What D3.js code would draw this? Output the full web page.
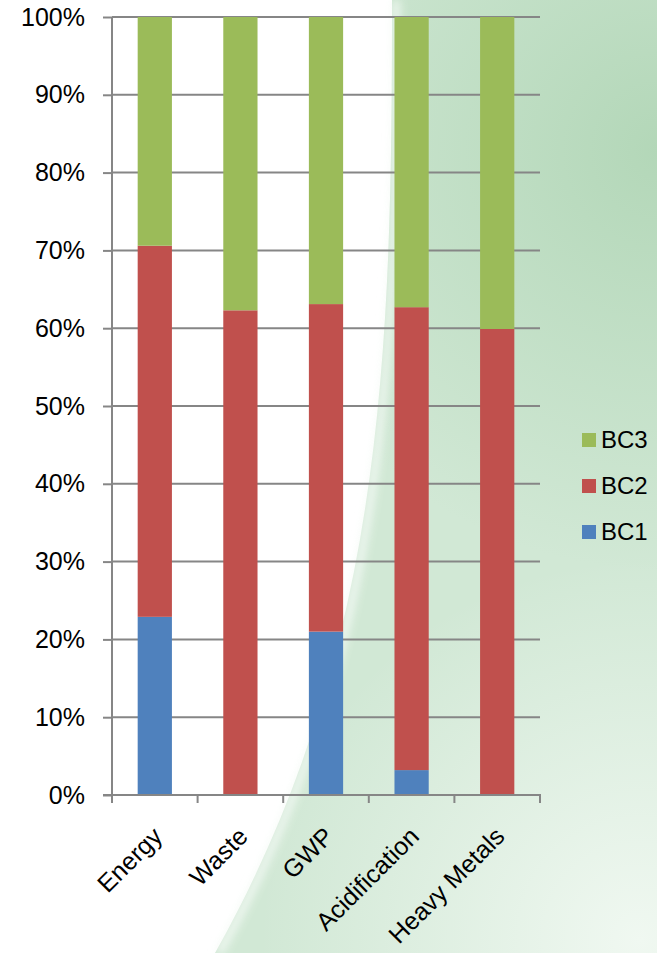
<!DOCTYPE html>
<html>
<head>
<meta charset="utf-8">
<script src="https://cdn.jsdelivr.net/npm/d3@7"></script>
<style>
  html, body { margin: 0; padding: 0; background: #fff; }
  svg { display: block; font-family: "Liberation Sans", Arial, sans-serif; }
</style>
</head>
<body>
<svg id="chart" width="657" height="953"></svg>
<script>
// Share of each impact category per building concept (percent, stacked to 100)
const categories = ["Energy", "Waste", "GWP", "Acidification", "Heavy Metals"];
const seriesNames = ["BC1", "BC2", "BC3"];
const bc1 = [22.9, 0, 21.0, 3.2, 0];
const bc2 = [47.7, 62.3, 42.1, 59.5, 59.9];
const bc3 = [29.4, 37.7, 36.9, 37.3, 40.1];
const yTicks = [0, 10, 20, 30, 40, 50, 60, 70, 80, 90, 100];
const colors = { BC1: "#4f81bd", BC2: "#c0504d", BC3: "#9bbb59" };

const svg = d3.select("#chart");
const W = 657, H = 953;
const FONT = 25;

// Soft green backdrop sweeping in from the right
const defs = svg.append("defs");
const rg1 = defs.append("radialGradient").attr("id", "dark")
  .attr("gradientUnits", "userSpaceOnUse").attr("cx", 660).attr("cy", 150).attr("r", 420);
rg1.append("stop").attr("offset", "0").attr("stop-color", "#b3d7b8").attr("stop-opacity", 1);
rg1.append("stop").attr("offset", "1").attr("stop-color", "#b3d7b8").attr("stop-opacity", 0);
const rg2 = defs.append("radialGradient").attr("id", "light")
  .attr("gradientUnits", "userSpaceOnUse").attr("cx", 640).attr("cy", 940).attr("r", 380);
rg2.append("stop").attr("offset", "0").attr("stop-color", "#f0f8f1").attr("stop-opacity", 1);
rg2.append("stop").attr("offset", "1").attr("stop-color", "#f0f8f1").attr("stop-opacity", 0);
defs.append("filter").attr("id", "soft").attr("x", "-50%").attr("y", "-10%").attr("width", "200%").attr("height", "120%")
  .append("feGaussianBlur").attr("stdDeviation", 4);

svg.append("rect").attr("width", W).attr("height", H).attr("fill", "#ffffff");
const edge = "M392,0 C392,350 385,650 215,953";
const swoosh = edge + " L657,953 L657,0 Z";
svg.append("path").attr("d", swoosh).attr("fill", "#d1e8d5");
svg.append("path").attr("d", swoosh).attr("fill", "url(#dark)");
svg.append("path").attr("d", swoosh).attr("fill", "url(#light)");
svg.append("path").attr("d", edge).attr("transform", "translate(4,0)")
  .attr("fill", "none").attr("stroke", "#f4faf5").attr("stroke-width", 8)
  .attr("opacity", 0.85).attr("filter", "url(#soft)");

const x = d3.scaleBand().domain(categories).range([112, 540]).paddingInner(0.6).paddingOuter(0.3);
const y = d3.scaleLinear().domain([0, 100]).range([795, 17]);

// Gridlines
svg.append("g").selectAll("line").data(yTicks.filter(d => d > 0)).join("line")
  .attr("x1", 112).attr("x2", 540)
  .attr("y1", d => y(d)).attr("y2", d => y(d))
  .attr("stroke", "#868686").attr("stroke-width", 2);

// Stacked bars
const rows = categories.map((c, i) => ({ cat: c, BC1: bc1[i], BC2: bc2[i], BC3: bc3[i] }));
const stack = d3.stack().keys(seriesNames)(rows);
svg.append("g").selectAll("g").data(stack).join("g")
  .attr("fill", d => colors[d.key])
  .selectAll("rect").data(d => d).join("rect")
  .attr("x", d => x(d.data.cat))
  .attr("width", x.bandwidth())
  .attr("y", d => y(d[1]))
  .attr("height", d => Math.max(0, y(d[0]) - y(d[1])));

// Y axis
const yAxis = d3.axisLeft(y).tickValues(yTicks).tickFormat(d => d + "%").tickSize(9).tickPadding(18);
const ya = svg.append("g").attr("transform", "translate(112,0)").call(yAxis);
ya.attr("font-size", FONT).attr("font-family", "Liberation Sans, Arial, sans-serif");
ya.select(".domain").attr("stroke", "#868686").attr("stroke-width", 2).attr("d", "M0,17V795");
ya.selectAll(".tick line").attr("stroke", "#868686").attr("stroke-width", 2);
ya.selectAll(".tick text").attr("fill", "#000");

// X axis with boundary tick marks between categories
svg.append("line").attr("x1", 103).attr("x2", 541).attr("y1", 795).attr("y2", 795)
  .attr("stroke", "#868686").attr("stroke-width", 2);
const bounds = d3.range(categories.length + 1).map(i => 112 + i * (428 / categories.length));
svg.append("g").selectAll("line").data(bounds).join("line")
  .attr("x1", d => d).attr("x2", d => d).attr("y1", 795).attr("y2", 803)
  .attr("stroke", "#868686").attr("stroke-width", 2);

svg.append("g").selectAll("text").data(categories).join("text")
  .attr("transform", d => `translate(${x(d) + x.bandwidth() / 2 + 9},${838}) rotate(-45)`)
  .attr("text-anchor", "end")
  .attr("font-size", FONT)
  .attr("fill", "#000")
  .text(d => d);

// Legend (top to bottom: BC3, BC2, BC1)
const legend = svg.append("g").selectAll("g").data(seriesNames.slice().reverse()).join("g")
  .attr("transform", (d, i) => `translate(582,${440 + i * 46})`);
legend.append("rect").attr("x", 0).attr("y", -7).attr("width", 14).attr("height", 14).attr("fill", d => colors[d]);
legend.append("text").attr("x", 19).attr("y", 8).attr("font-size", 24).attr("fill", "#000").text(d => d);
</script>
</body>
</html>
